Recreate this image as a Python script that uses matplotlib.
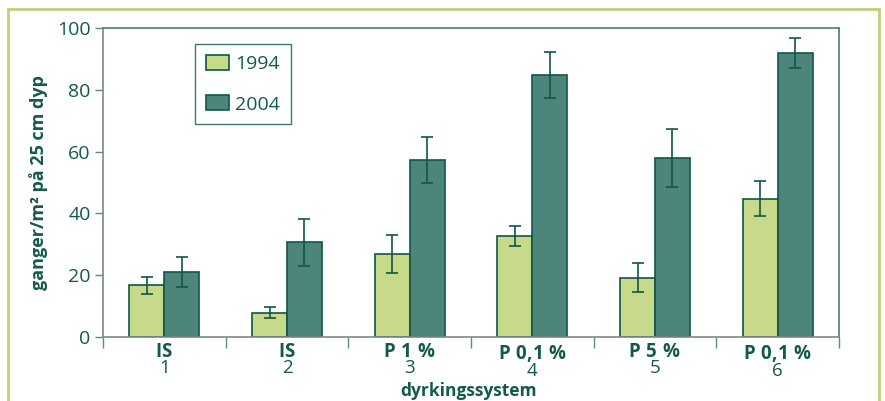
import numpy as np
import matplotlib.pyplot as plt
from matplotlib.patches import Rectangle
from matplotlib.legend_handler import HandlerPatch

plt.rcParams["font.family"] = ["Open Sans", "DejaVu Sans"]
plt.rcParams["mathtext.fontset"] = "custom"
plt.rcParams["mathtext.bf"] = "Open Sans:bold"
plt.rcParams["mathtext.rm"] = "Open Sans"

# Data
systems = ["IS", "IS", "P 1 %", "P 0,1 %", "P 5 %", "P 0,1 %"]
numbers = ["1", "2", "3", "4", "5", "6"]
years = ["1994", "2004"]
vals_1994 = [16.7, 7.9, 26.8, 32.7, 19.2, 44.7]
err_1994 = [2.8, 1.9, 6.1, 3.2, 4.6, 5.7]
vals_2004 = [21.1, 30.6, 57.3, 84.7, 57.9, 92.0]
err_2004 = [4.8, 7.6, 7.4, 7.4, 9.5, 4.8]

light = "#c6da8a"
dark = "#4d857a"
edge = "#0f5747"
txt = "#145a4c"
frame_col = "#bfd27a"

fig = plt.figure(figsize=(8.85, 4.01), dpi=100)
ax = fig.add_axes([0.1164, 0.1596, 0.8316, 0.7706])

x = np.arange(len(systems))
w = 0.285
ax.bar(x - w / 2, vals_1994, w, color=light, edgecolor=edge, linewidth=1.2, label=years[0], zorder=2)
ax.bar(x + w / 2, vals_2004, w, color=dark, edgecolor=edge, linewidth=1.2, label=years[1], zorder=2)
ax.errorbar(x - w / 2, vals_1994, yerr=err_1994, fmt="none", ecolor=edge, elinewidth=1.2,
            capsize=4.3, capthick=1.2, zorder=3)
ax.errorbar(x + w / 2, vals_2004, yerr=err_2004, fmt="none", ecolor=edge, elinewidth=1.2,
            capsize=4.3, capthick=1.2, zorder=3)

ax.set_xlim(-0.5, len(systems) - 0.5)
ax.set_ylim(0, 100)
ax.set_yticks(np.arange(0, 101, 20))
ax.tick_params(axis="y", colors="#5f8a80", labelcolor=txt, labelsize=14, length=6, width=1, pad=3)

# ticks on group boundaries, two-line labels (bold system name over number) as text
ax.set_xticks(np.arange(-0.5, len(systems), 1.0))
ax.set_xticklabels([])
ax.tick_params(axis="x", colors="#5f8a80", length=8, width=1)
for i in x:
    name = systems[i].replace(" ", r"\ ").replace("%", r"\%").replace(",", "{,}")
    ax.text(i, -2.0, r"$\mathbf{" + name + "}$\n" + numbers[i], ha="center", va="top",
            multialignment="center", linespacing=0.82, fontsize=13.5, color=txt,
            transform=ax.transData, clip_on=False)

for s in ["left", "bottom"]:
    ax.spines[s].set_color("#7d8a86")
for s in ["top", "right"]:
    ax.spines[s].set_color("#4e7d72")
for s in ax.spines.values():
    s.set_linewidth(1.2)

fig.text(0.529, 0.025, "dyrkingssystem", ha="center", va="center", fontsize=12.5,
         fontweight="bold", color=txt)
fig.text(0.043, 0.545, "ganger/m² på 25 cm dyp", ha="center", va="center", rotation=90,
         fontsize=13, fontweight="bold", color=txt)


# square legend keys pushed to the right side of the handle box
def square_key(legend, orig_handle, xdescent, ydescent, width, height, fontsize):
    return Rectangle((-xdescent + width - height, -ydescent), height, height)


leg = ax.legend(loc="upper left", bbox_to_anchor=(0.1254, 0.948), fontsize=14,
                frameon=True, fancybox=False, handlelength=1.2, handleheight=0.8,
                labelspacing=1.15, borderpad=0.55, handletextpad=0.3, borderaxespad=0,
                handler_map={Rectangle: HandlerPatch(patch_func=square_key)})
leg.get_frame().set_edgecolor(edge)
leg.get_frame().set_linewidth(1.0)
for t in leg.get_texts():
    t.set_color(txt)

# outer light green frame
fig.patches.append(Rectangle((8 / 885, -0.1), 871 / 885, 1.1 - 9 / 401, transform=fig.transFigure,
                             fill=False, edgecolor=frame_col, linewidth=2.0))

fig.savefig("out.png", dpi=100)
